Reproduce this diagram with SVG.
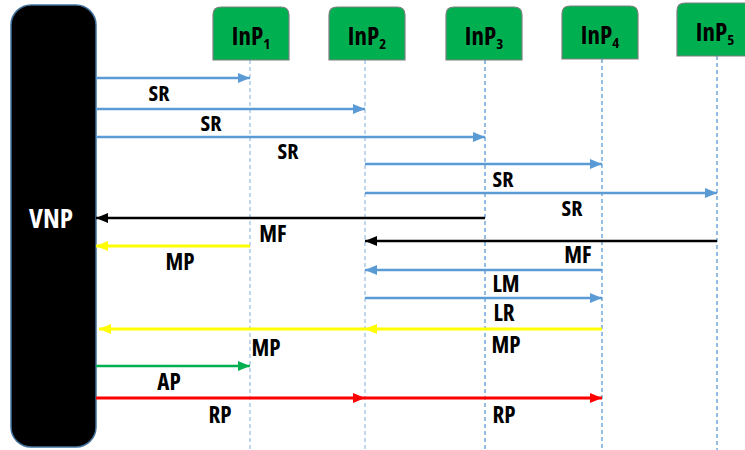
<svg xmlns="http://www.w3.org/2000/svg" width="745" height="450" viewBox="0 0 745 450">
<style>
.lbl{font-family:"Open Sans","Liberation Sans",sans-serif;font-weight:bold;font-stretch:condensed;font-size:23px;fill:#000;text-anchor:middle}
.sr{font-size:22px}
.inp{font-family:"Open Sans","Liberation Sans",sans-serif;font-weight:bold;font-stretch:condensed;font-size:25px;fill:#000;text-anchor:middle}
.sub{font-size:15px}
.box{fill:#00B050;stroke:#7F7F7F;stroke-width:1.2}
.life{stroke:#5B9BD5;stroke-width:1.3;stroke-dasharray:4 3;fill:none}
.life.pale{stroke:#9DC3E6}
.blue{stroke:#5B9BD5;stroke-width:2.4;fill:none;marker-end:url(#mBlue)}
.black{stroke:#000;stroke-width:2.4;fill:none;marker-end:url(#mBlack)}
.yellow{stroke:#FFFF00;stroke-width:3;fill:none;marker-end:url(#mYellow)}
.green{stroke:#00B050;stroke-width:2.6;fill:none;marker-end:url(#mGreen)}
.red{stroke:#FF0000;stroke-width:2.8;fill:none;marker-end:url(#mRed)}
</style>
<defs>
<marker id="mBlue" markerUnits="userSpaceOnUse" markerWidth="12" markerHeight="10" refX="12" refY="5" orient="auto"><path d="M0,0 L12,5 L0,10 z" fill="#5B9BD5"/></marker>
<marker id="mBlack" markerUnits="userSpaceOnUse" markerWidth="12" markerHeight="10" refX="12" refY="5" orient="auto"><path d="M0,0 L12,5 L0,10 z" fill="#000"/></marker>
<marker id="mYellow" markerUnits="userSpaceOnUse" markerWidth="12" markerHeight="10" refX="12" refY="5" orient="auto"><path d="M0,0 L12,5 L0,10 z" fill="#FFFF00"/></marker>
<marker id="mGreen" markerUnits="userSpaceOnUse" markerWidth="12" markerHeight="10" refX="12" refY="5" orient="auto"><path d="M0,0 L12,5 L0,10 z" fill="#00B050"/></marker>
<marker id="mRed" markerUnits="userSpaceOnUse" markerWidth="12" markerHeight="10" refX="12" refY="5" orient="auto"><path d="M0,0 L12,5 L0,10 z" fill="#FF0000"/></marker>
</defs>
<rect width="745" height="450" fill="#fff"/>

<g id="lifelines">
<line class="life pale" x1="250" y1="60" x2="250" y2="450"/>
<line class="life pale" x1="365" y1="60" x2="365" y2="450"/>
<line class="life" x1="485" y1="60" x2="485" y2="450"/>
<line class="life" x1="602" y1="59" x2="602" y2="450"/>
<line class="life" x1="717" y1="56" x2="717" y2="450"/>
</g>

<g id="VNP">
<rect x="11" y="5" width="85" height="442" rx="20" ry="20" fill="#000" stroke="#41719C" stroke-width="1.5"/>
<text x="51" y="228" class="lbl" style="fill:#fff;font-size:27px">VNP</text>
</g>

<g id="InP1">
<path class="box" d="M213,60 V15 Q213,7 221,7 H281 Q289,7 289,15 V60 Z"/>
<text x="251" y="45" class="inp">InP<tspan class="sub" dy="4">1</tspan></text>
</g>
<g id="InP2">
<path class="box" d="M329,60 V15 Q329,7 337,7 H397 Q405,7 405,15 V60 Z"/>
<text x="367" y="45" class="inp">InP<tspan class="sub" dy="4">2</tspan></text>
</g>
<g id="InP3">
<path class="box" d="M446,60 V15 Q446,7 454,7 H514 Q522,7 522,15 V60 Z"/>
<text x="484" y="45" class="inp">InP<tspan class="sub" dy="4">3</tspan></text>
</g>
<g id="InP4">
<path class="box" d="M562,59 V14 Q562,6 570,6 H630 Q638,6 638,14 V59 Z"/>
<text x="600" y="44" class="inp">InP<tspan class="sub" dy="4">4</tspan></text>
</g>
<g id="InP5">
<path class="box" d="M677,56 V11 Q677,3 685,3 H745 Q753,3 753,11 V56 Z"/>
<text x="715" y="41" class="inp">InP<tspan class="sub" dy="4">5</tspan></text>
</g>

<g id="connectors">
<line class="blue" x1="96" y1="78" x2="250" y2="78"/>
<line class="blue" x1="96" y1="109" x2="365" y2="109"/>
<line class="blue" x1="96" y1="137" x2="485" y2="137"/>
<line class="blue" x1="365" y1="164" x2="602" y2="164"/>
<line class="blue" x1="365" y1="193" x2="717" y2="193"/>
<line class="black" x1="485" y1="218" x2="96" y2="218"/>
<line class="black" x1="717" y1="241" x2="365" y2="241"/>
<line class="yellow" x1="250" y1="246" x2="96" y2="246"/>
<line class="blue" x1="602" y1="270" x2="365" y2="270"/>
<line class="blue" x1="365" y1="298" x2="602" y2="298"/>
<line class="yellow" x1="602" y1="329" x2="365" y2="329"/>
<line class="yellow" x1="365" y1="329" x2="99" y2="329"/>
<line class="green" x1="96" y1="366" x2="250" y2="366"/>
<line class="red" x1="96" y1="398" x2="365" y2="398"/>
<line class="red" x1="365" y1="398" x2="602" y2="398"/>
</g>

<g id="labels">
<text x="159" y="101" class="lbl sr">SR</text>
<text x="211" y="131" class="lbl sr">SR</text>
<text x="288" y="159" class="lbl sr">SR</text>
<text x="503" y="187" class="lbl sr">SR</text>
<text x="572" y="216" class="lbl sr">SR</text>
<text x="273" y="242" class="lbl">MF</text>
<text x="578" y="263" class="lbl">MF</text>
<text x="180" y="270" class="lbl">MP</text>
<text x="506" y="292" class="lbl">LM</text>
<text x="504" y="321" class="lbl">LR</text>
<text x="506" y="353" class="lbl">MP</text>
<text x="266" y="356" class="lbl">MP</text>
<text x="169" y="390" class="lbl">AP</text>
<text x="220" y="423" class="lbl">RP</text>
<text x="504" y="423" class="lbl">RP</text>
</g>
</svg>
